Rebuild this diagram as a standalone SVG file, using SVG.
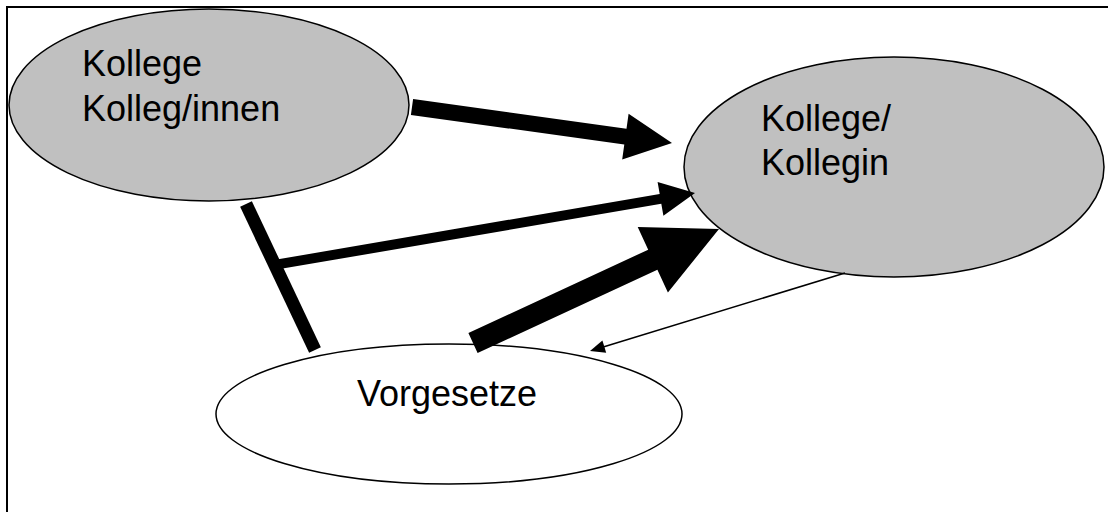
<svg xmlns="http://www.w3.org/2000/svg" width="1108" height="512" viewBox="0 0 1108 512">
<style>
.node ellipse{stroke:#000;stroke-width:1.5}
.gray{fill:#c0c0c0}
.white{fill:#fff}
.lbl{font-family:"Liberation Sans",Arial,sans-serif;font-size:36px;fill:#000}
.arr{fill:#000;stroke:none}
</style>
<rect width="1108" height="512" fill="#fff"/>
<path d="M7,513 V7 H1109" fill="none" stroke="#000" stroke-width="2"/>
<g id="node-kollegen" class="node">
<ellipse class="gray" cx="209" cy="105" rx="200" ry="96"/>
<text class="lbl" x="82" y="76">Kollege</text>
<text class="lbl" x="82" y="121">Kolleg/innen</text>
</g>
<g id="node-kollegin" class="node">
<ellipse class="gray" cx="894" cy="167" rx="210" ry="110"/>
<text class="lbl" x="761" y="131">Kollege/</text>
<text class="lbl" x="761" y="175">Kollegin</text>
</g>
<g id="node-vorgesetze" class="node">
<ellipse class="white" cx="449" cy="414" rx="233" ry="70"/>
<text class="lbl" x="357" y="406">Vorgesetze</text>
</g>
<g id="connectors">
<polygon class="arr" points="413.1,99.1 626.5,128.7 628.6,113.8 672,143 622.2,159.4 624.3,144.5 410.9,114.9"/>
<line x1="246" y1="204" x2="315" y2="350" stroke="#000" stroke-width="13"/>
<polygon class="arr" points="275.2,259.8 659.7,194.0 657.6,182.1 695,193 663.4,215.7 661.3,203.8 276.8,269.6"/>
<polygon class="arr" points="468.4,333.0 648.2,249.7 637.7,227.0 719,229 667.9,292.4 657.4,269.7 477.6,353.0"/>
<line x1="845" y1="273" x2="604" y2="346.7" stroke="#000" stroke-width="1.5"/>
<polygon class="arr" points="590,351 602.4,340.4 606.2,352.8"/>
</g>
</svg>
